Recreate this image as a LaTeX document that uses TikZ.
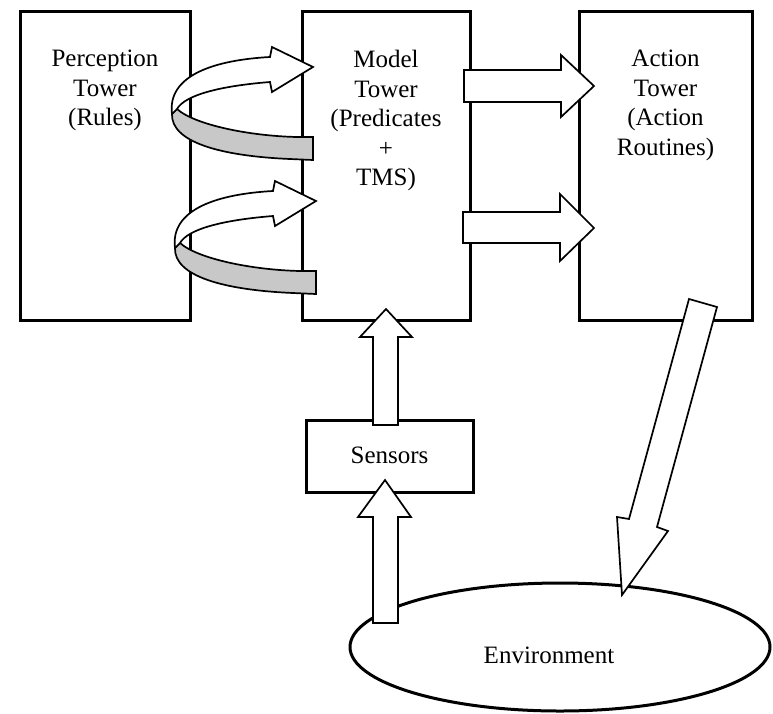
\documentclass[tikz,border=0pt]{standalone}
\usepackage{fontspec}
\setmainfont{Liberation Serif}
\usetikzlibrary{shapes.geometric}
\definecolor{ribbongrey}{RGB}{200,200,200}
\tikzset{
  boxnode/.style={draw, line width=3pt, rectangle, inner sep=0pt},
  lbl/.style={align=center, inner sep=0pt, font=\fontsize{25}{29.5}\selectfont},
  blockarrow/.style={draw, fill=white, line width=1.7pt, line join=miter},
  greyribbon/.style={draw, fill=ribbongrey, line width=1.7pt, line join=miter},
}
\begin{document}
\begin{tikzpicture}[x=1pt, y=-1pt]
\useasboundingbox (0,0) rectangle (773,713);
% towers and boxes
\node[boxnode, minimum width=170pt, minimum height=309pt] (perc) at (105,165.5) {};
\node[boxnode, minimum width=168pt, minimum height=309pt] (model) at (386,165.5) {};
\node[boxnode, minimum width=173pt, minimum height=309pt] (action) at (665.5,165.5) {};
\node[boxnode, minimum width=167pt, minimum height=72pt] (sensors) at (389.5,456) {};
\node[draw, ellipse, line width=3pt, inner sep=0pt, minimum width=420pt, minimum height=128pt] (env) at (560,647) {};

% straight block arrows
\draw[blockarrow] (464,70) -- (561,70) -- (561,55) -- (594,86) -- (561,117) -- (561,102) -- (464,102) -- cycle;
\draw[blockarrow] (463,212) -- (560,212) -- (560,194) -- (594,228) -- (560,261) -- (560,243) -- (463,243) -- cycle;
\draw[blockarrow] (373,425) -- (373,337) -- (360,337) -- (386,309) -- (412,337) -- (398,337) -- (398,425) -- cycle;
\draw[blockarrow] (373,623) -- (373,517) -- (358,517) -- (385,480) -- (411,517) -- (398,517) -- (398,623) -- cycle;
\draw[blockarrow] (689,299) -- (717,307) -- (657,527) -- (668,531) -- (622,595) -- (617,517) -- (629,519) -- cycle;

% curved (twisted) arrows
\foreach \sx/\sy in {0/0, 3/134} {
  \begin{scope}[shift={(\sx,\sy)}]
    \draw[greyribbon] (177,109) .. controls (195,125) and (250,136) .. (297,137) -- (313,137) -- (313,160) -- (290,159) .. controls (220,156) and (171,142) .. (172,114) -- cycle;
    \draw[blockarrow] (172,114) .. controls (167,75) and (215,60) .. (270,57) -- (272,47) -- (313,67) -- (272,92) -- (270,82) .. controls (220,86) and (185,95) .. (177,109) -- cycle;
  \end{scope}
}

% labels
\node[lbl, anchor=north] (perctext) at (105,50) {Perception\\Tower\\(Rules)};
\node[lbl, anchor=north] (modeltext) at (386,50) {Model\\Tower\\(Predicates\\+\\TMS)};
\node[lbl, anchor=north] (actiontext) at (665.5,50) {Action\\Tower\\(Action\\Routines)};
\node[lbl] (sensorstext) at (389.5,455) {Sensors};
\node[lbl] (envtext) at (549,655) {Environment};
\end{tikzpicture}
\end{document}
